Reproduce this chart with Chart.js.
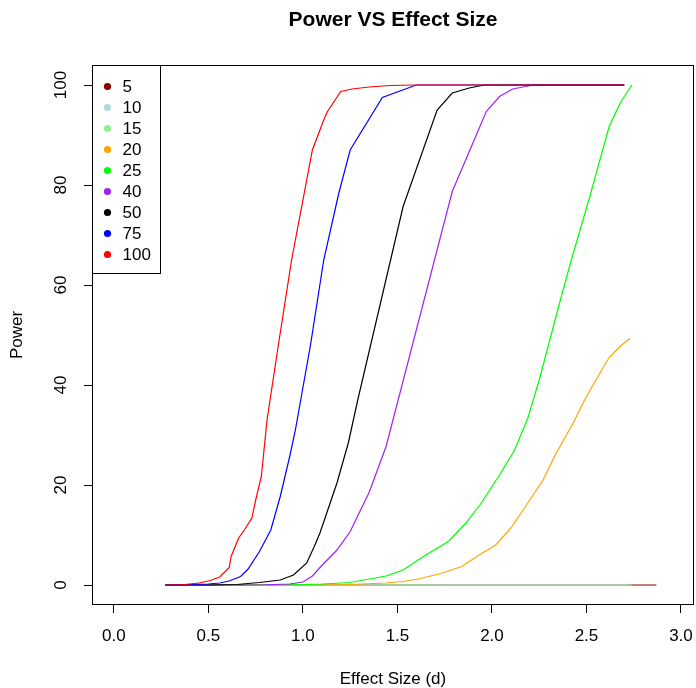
<!DOCTYPE html>
<html>
<head>
<meta charset="utf-8">
<script src="https://cdn.jsdelivr.net/npm/chart.js@4/dist/chart.umd.min.js"></script>
<style>
  body { margin: 0; background: #fff; }
  canvas { display: block; }
</style>
</head>
<body>
<canvas id="power-chart" width="696" height="688"></canvas>
<script>
// sample sizes (legend) and the simulated power curves
const sampleSizes = ['5', '10', '15', '20', '25', '40', '50', '75', '100'];

const d5 = [0.27, 1.00, 2.00, 2.87];
const pow5 = [0, 0, 0, 0];

const d10 = [0.27, 1.00, 2.00, 2.72];
const pow10 = [0, 0, 0, 0];

const d15 = [0.27, 1.00, 2.00, 2.74];
const pow15 = [0, 0, 0, 0];

const d20 = [0.27, 1.00, 1.25, 1.44, 1.53, 1.61, 1.73, 1.84, 1.94, 2.02, 2.10, 2.19, 2.27, 2.34, 2.43, 2.49, 2.55, 2.62, 2.68, 2.73];
const pow20 = [0, 0, 0.1, 0.4, 0.7, 1.2, 2.3, 3.7, 6.2, 8.0, 11.4, 16.4, 21.0, 26.4, 32.4, 37.0, 41.0, 45.5, 47.8, 49.3];

const d25 = [0.27, 0.80, 1.00, 1.10, 1.25, 1.44, 1.53, 1.65, 1.77, 1.86, 1.94, 2.04, 2.12, 2.19, 2.25, 2.36, 2.42, 2.52, 2.62, 2.68, 2.74];
const pow25 = [0, 0, 0.1, 0.2, 0.5, 1.8, 3.0, 6.0, 8.7, 12.3, 16.2, 22.0, 27.0, 33.4, 41.0, 56.7, 65.0, 78.0, 91.7, 96.5, 100];

const d40 = [0.27, 0.60, 0.80, 0.93, 1.00, 1.05, 1.09, 1.18, 1.25, 1.35, 1.44, 1.79, 1.97, 2.04, 2.11, 2.22, 2.70];
const pow40 = [0, 0, 0.05, 0.2, 0.6, 1.8, 3.5, 7.0, 10.7, 18.5, 27.7, 78.7, 94.7, 97.7, 99.2, 100, 100];

const d50 = [0.27, 0.50, 0.65, 0.77, 0.88, 0.95, 1.02, 1.06, 1.09, 1.18, 1.24, 1.29, 1.53, 1.71, 1.79, 1.88, 1.96, 2.70];
const pow50 = [0, 0, 0.1, 0.5, 1.0, 2.0, 4.4, 7.7, 10.4, 20.4, 28.4, 37.0, 75.7, 95.0, 98.4, 99.4, 100, 100];

const d75 = [0.27, 0.40, 0.50, 0.56, 0.61, 0.67, 0.71, 0.77, 0.83, 0.88, 0.93, 0.96, 1.04, 1.11, 1.19, 1.25, 1.42, 1.60, 2.70];
const pow75 = [0, 0.1, 0.2, 0.4, 0.8, 1.7, 3.2, 6.7, 11.0, 17.7, 25.7, 31.0, 48.0, 65.0, 78.4, 87.0, 97.5, 100, 100];

const d100 = [0.27, 0.35, 0.45, 0.51, 0.56, 0.61, 0.62, 0.66, 0.69, 0.73, 0.75, 0.78, 0.81, 0.87, 0.94, 1.00, 1.05, 1.11, 1.13, 1.20, 1.26, 1.35, 1.46, 1.60, 2.70];
const pow100 = [0, 0, 0.4, 0.9, 1.6, 3.5, 5.7, 9.4, 11.0, 13.4, 17.0, 21.7, 33.0, 48.0, 65.0, 77.0, 87.0, 93.0, 94.7, 98.7, 99.2, 99.6, 99.9, 100, 100];

const xTicks = [0, 0.5, 1.0, 1.5, 2.0, 2.5, 3.0];
const yTicks = [0, 20, 40, 60, 80, 100];

const effectSizes = [d5, d10, d15, d20, d25, d40, d50, d75, d100];
const powers = [pow5, pow10, pow15, pow20, pow25, pow40, pow50, pow75, pow100];
const lineColors = ['#8B0000', '#ADD8E6', '#90EE90', '#FFA500', '#00FF00', '#A020F0', '#000000', '#0000FF', '#FF0000'];

const FONT = '"Liberation Sans", Arial, Helvetica, sans-serif';
Chart.defaults.font.family = FONT;
Chart.defaults.color = '#000';

function toPoints(ds, ps) {
    let pts = [];
    for (let i = 0; i < ds.length; i++) {
        pts.push({x: ds[i], y: ps[i]});
    };
    return pts;
};

let datasets = [];
for (let i = 0; i < sampleSizes.length; i++) {
    datasets.push({
        label: sampleSizes[i],
        data: toPoints(effectSizes[i], powers[i]),
        borderColor: lineColors[i],
        backgroundColor: lineColors[i],
        borderWidth: 1.2,
        pointRadius: 0,
        fill: false,
        order: -i   // later sample sizes drawn on top, like base R
    });
};

// frame around the plot region and the top-left legend box
const frameAndLegend = {
    id: 'frameAndLegend',
    afterDraw(chart) {
        const ctx = chart.ctx;
        const a = chart.chartArea;
        ctx.save();
        ctx.strokeStyle = '#000';
        ctx.lineWidth = 1;
        let l = Math.round(a.left) + 0.5, t = Math.round(a.top) + 0.5;
        let r = Math.round(a.right) - 0.5, b = Math.round(a.bottom) - 0.5;
        ctx.strokeRect(l, t, r - l, b - t);

        // legend
        ctx.strokeRect(l, t, 68, 208);
        ctx.font = '17px ' + FONT;
        ctx.textBaseline = 'middle';
        ctx.textAlign = 'left';
        chart.data.datasets.forEach(function (ds, i) {
            let y = t + 21 + i * 21;
            ctx.fillStyle = ds.borderColor;
            ctx.beginPath();
            ctx.arc(l + 15, y, 3.6, 0, Math.PI * 2);
            ctx.fill();
            ctx.fillStyle = '#000';
            ctx.fillText(ds.label, l + 30, y + 1);
        });
        ctx.restore();
    }
};

new Chart(document.getElementById('power-chart'), {
    type: 'line',
    data: { datasets: datasets },
    plugins: [frameAndLegend],
    options: {
        responsive: false,
        animation: false,
        devicePixelRatio: 1,
        events: [],
        layout: { padding: { left: 0, right: 2, top: 0, bottom: 0 } },
        elements: { line: { tension: 0 } },
        scales: {
            x: {
                type: 'linear',
                min: -0.116,
                max: 3.069,
                afterBuildTicks: function (s) { s.ticks = xTicks.map(v => ({value: v})); },
                afterFit: function (s) { s.height = 83; s.paddingLeft = 0; s.paddingRight = 0; },
                ticks: {
                    callback: v => Number(v).toFixed(1),
                    font: { size: 17 },
                    padding: 13,
                    autoSkip: false,
                    maxRotation: 0
                },
                grid: { drawOnChartArea: false, drawTicks: true, tickLength: 8, color: '#000' },
                border: { display: false },
                title: { display: true, text: 'Effect Size (d)', font: { size: 17, lineHeight: 1 }, padding: 0 }
            },
            y: {
                type: 'linear',
                min: -4,
                max: 104,
                afterBuildTicks: function (s) { s.ticks = yTicks.map(v => ({value: v})); },
                afterFit: function (s) { s.width = 92; s.paddingTop = 0; s.paddingBottom = 0; },
                ticks: {
                    callback: v => String(v),
                    font: { size: 17 },
                    padding: 9,
                    minRotation: 90,
                    maxRotation: 90,
                    crossAlign: 'center',
                    autoSkip: false
                },
                grid: { drawOnChartArea: false, drawTicks: true, tickLength: 8, color: '#000' },
                border: { display: false },
                title: { display: true, text: 'Power', font: { size: 17, lineHeight: 1 }, padding: { top: 9 } }
            }
        },
        plugins: {
            legend: { display: false },
            tooltip: { enabled: false },
            title: {
                display: true,
                text: 'Power VS Effect Size',
                fullSize: false,
                color: '#000',
                font: { size: 21, weight: 'bold' },
                padding: { top: 8, bottom: 31.8 }
            }
        }
    }
});
</script>
</body>
</html>
